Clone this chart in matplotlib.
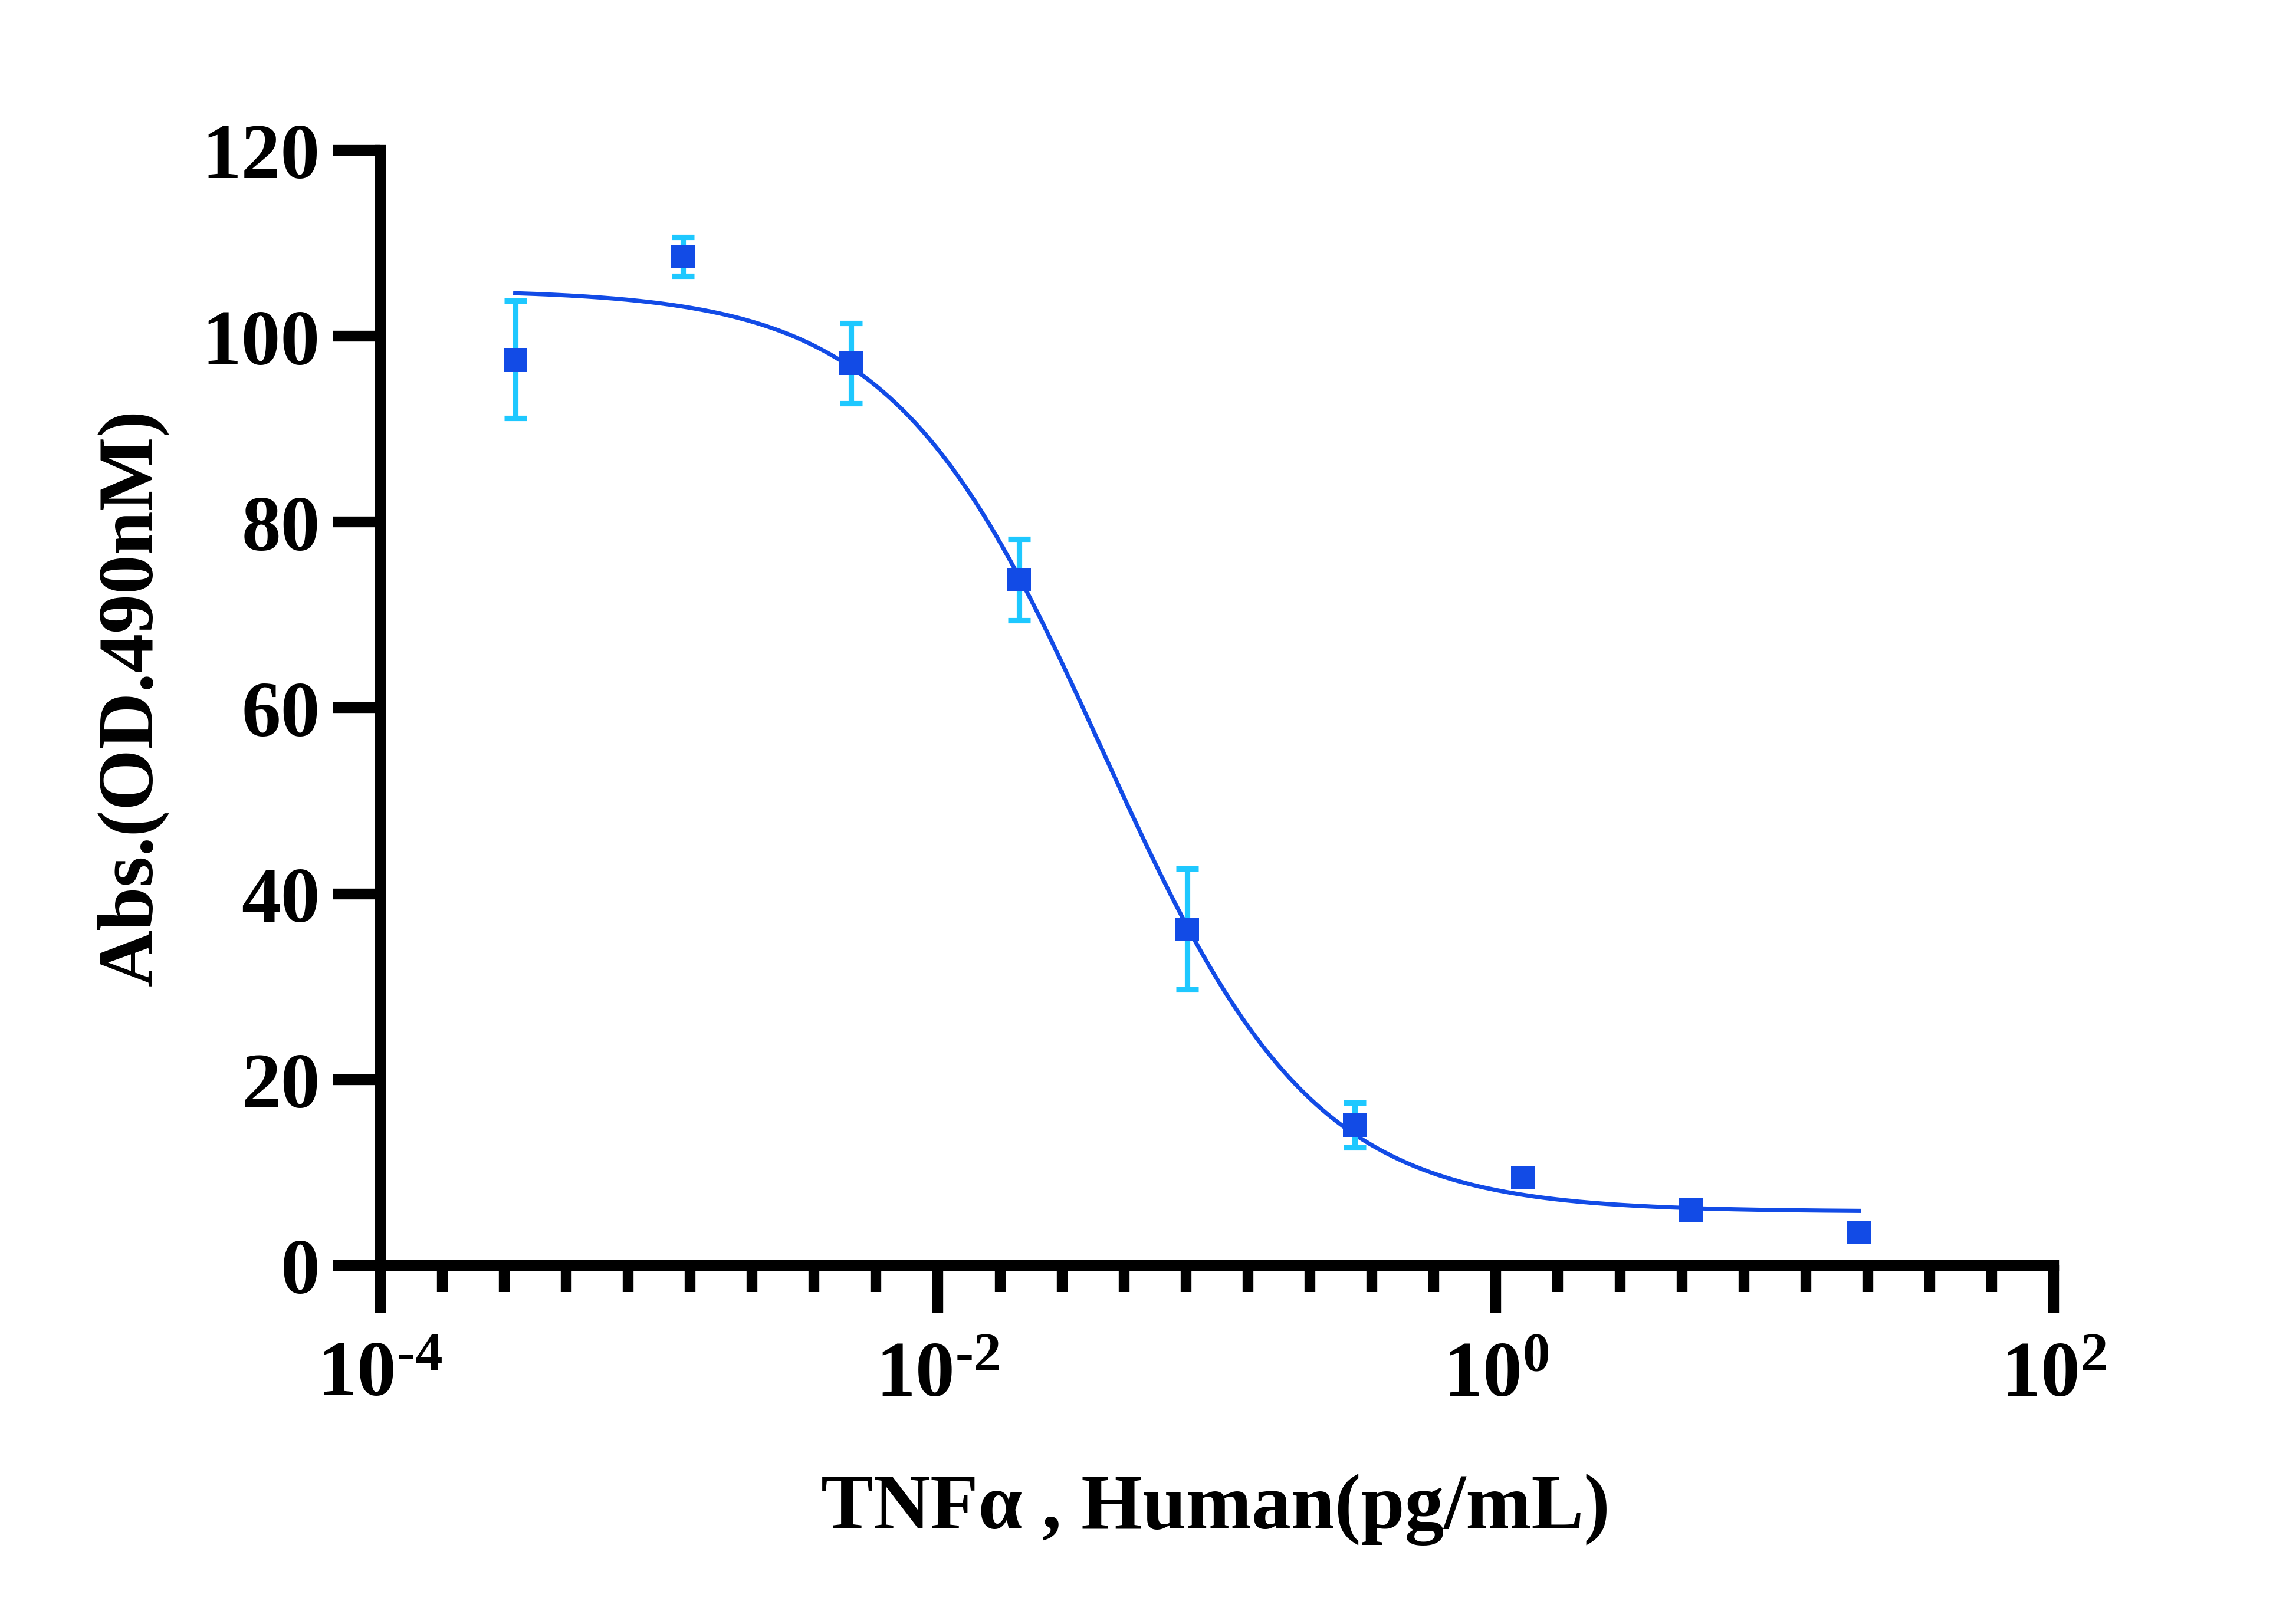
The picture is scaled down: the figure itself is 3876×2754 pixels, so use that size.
import numpy as np
import matplotlib
matplotlib.use("Agg")
import matplotlib.pyplot as plt
from matplotlib.ticker import FixedLocator, NullFormatter

# TNFa concentration (pg/mL), 4-fold dilution series
conc = [0.000305, 0.00122, 0.00488, 0.0195, 0.0781, 0.3125, 1.25, 5.0, 20.0]
absorb = [97.5, 108.6, 97.1, 73.8, 36.2, 15.1, 9.45, 5.96, 3.55]
sd = [6.3, 2.1, 4.3, 4.4, 6.5, 2.4, 0.6, 0.5, 0.5]

# 4PL fit parameters
fit_top = 105.0
fit_bottom = 5.8
fit_log_ic50 = -1.41
fit_hill = 1.15

y_ticks = [0, 20, 40, 60, 80, 100, 120]
x_major = [1e-4, 1e-2, 1e0, 1e2]
x_labels = [r"$10^{\text{-}4}$", r"$10^{\text{-}2}$", r"$10^{0}$", r"$10^{2}$"]

plt.rcParams["font.family"] = ["Liberation Serif", "DejaVu Serif"]
plt.rcParams["font.weight"] = "bold"
plt.rcParams["mathtext.fontset"] = "custom"
plt.rcParams["mathtext.rm"] = "Liberation Serif:bold"
plt.rcParams["mathtext.it"] = "Liberation Serif:bold"
plt.rcParams["mathtext.bf"] = "Liberation Serif:bold"

marker_col = "#124BE6"
err_col = "#1EC8FF"

fig = plt.figure(figsize=(12.92, 9.1833), dpi=300)
ax = fig.add_axes([0.1663, 0.2207, 0.8984 - 0.1663, 0.9071 - 0.2207])

# fitted curve
xs = np.logspace(np.log10(conc[0]), np.log10(conc[-1]), 400)
ys = fit_bottom + (fit_top - fit_bottom) / (1 + 10 ** ((np.log10(xs) - fit_log_ic50) * fit_hill))
ax.plot(xs, ys, color=marker_col, lw=1.7, zorder=2)

ax.errorbar(conc, absorb, yerr=sd, fmt="none", ecolor=err_col, elinewidth=2.2,
            capsize=4.6, capthick=2.2, zorder=3)
ax.plot(conc, absorb, "s", color=marker_col, markersize=9.4, markeredgewidth=0, zorder=4)

ax.set_xscale("log")
ax.set_xlim(1e-4, 1e2)
ax.set_ylim(0, 120)

ax.xaxis.set_major_locator(FixedLocator(x_major))
ax.set_xticklabels(x_labels)
minor = [10 ** (-4 + k * 2 / 9) for k in range(28) if k % 9 != 0]
ax.xaxis.set_minor_locator(FixedLocator(minor))
ax.xaxis.set_minor_formatter(NullFormatter())
ax.set_yticks(y_ticks)

for s in ["top", "right"]:
    ax.spines[s].set_visible(False)
for s in ["left", "bottom"]:
    ax.spines[s].set_linewidth(4.4)

ax.tick_params(axis="both", which="major", length=19.4, width=4.4, labelsize=32)
ax.tick_params(axis="y", which="major", pad=5)
ax.tick_params(axis="x", which="major", pad=11)
ax.tick_params(axis="x", which="minor", length=10.8, width=4.4)

ax.set_xlabel("TNFα , Human(pg/mL)", fontsize=32, fontweight="bold", va="baseline")
ax.xaxis.set_label_coords(0.499, -0.2353)
ax.set_ylabel("Abs.(OD.490nM)", fontsize=32, fontweight="bold", va="baseline")
ax.yaxis.set_label_coords(-0.1366, 0.51)

fig.savefig("out.png", dpi=300)
